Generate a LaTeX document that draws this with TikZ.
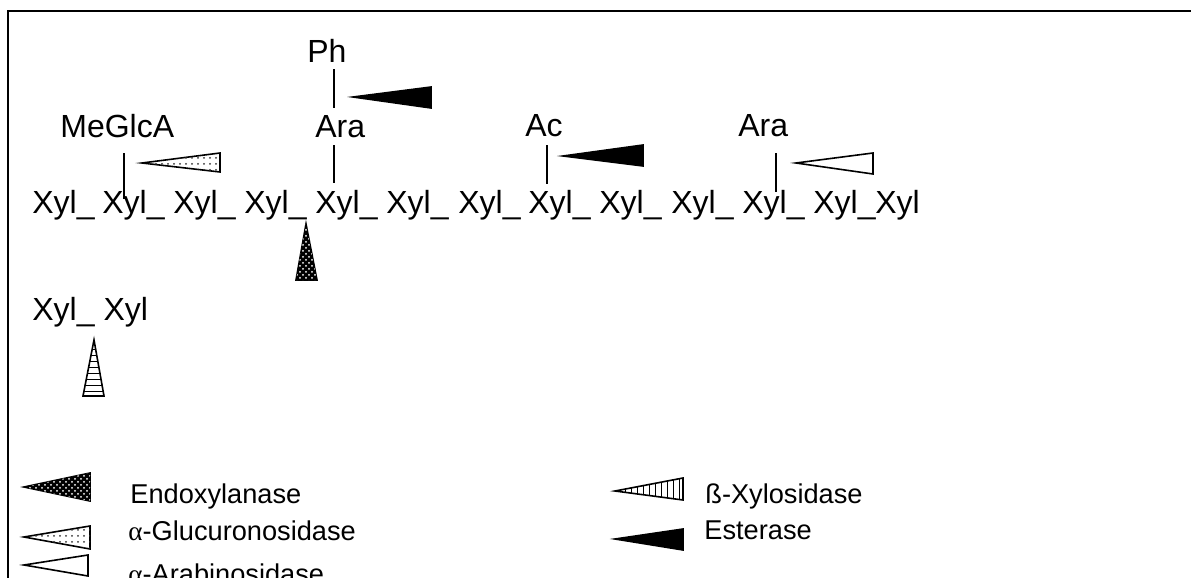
\documentclass[tikz,border=0pt]{standalone}
\usepackage{fontspec}
\setmainfont{Liberation Sans}
\newfontfamily\greekfont{Liberation Serif}
\usetikzlibrary{patterns}
\newcommand{\alf}{{\greekfont α}}
\tikzset{
  lbl/.style={anchor=base west, inner sep=0pt, font=\fontsize{16}{19}\selectfont},
  leg/.style={anchor=base west, inner sep=0pt, font=\fontsize{13.6}{16}\selectfont},
  bond/.style={line width=0.9pt},
  wedge/.style={draw=black, line width=0.8pt, line join=miter},
  endo/.style={wedge, fill=black, postaction={pattern=crosshatch dots, pattern color=white}},
  gluc/.style={wedge, fill=white, postaction={pattern=dots, pattern color=black!80}},
  arab/.style={wedge, fill=white},
  ester/.style={wedge, fill=black},
  xylo/.style={wedge, fill=white, postaction={pattern=vertical lines}},
  xyloup/.style={wedge, fill=white, postaction={pattern=horizontal lines}},
}
\begin{document}
\begin{tikzpicture}[x=0.5pt,y=-0.5pt]
\clip (0,0) rectangle (1191,578);
\fill[white] (0,0) rectangle (1191,578);
% frame
\draw[line width=1pt] (8,600) -- (8,11) -- (1200,11);

% xylan backbone
\foreach \i/\xx in {1/32,2/102,3/173,4/244,5/315,6/386,7/458,8/528,9/599,10/671,11/742,12/813}
  \node[lbl] (x\i) at (\xx,213) {Xyl\_};
\node[lbl] (x13) at (875,213) {Xyl};

% side groups
\node[lbl] (ph)   at (307,62)  {Ph};
\node[lbl] (mgl)  at (60,137)  {MeGlcA};
\node[lbl] (ara1) at (315,137) {Ara};
\node[lbl] (ac)   at (525,136) {Ac};
\node[lbl] (ara2) at (738,136) {Ara};

% bonds to the backbone
\coordinate (b1t) at (124,153); \coordinate (b1b) at (124,199);
\coordinate (b2t) at (334,145); \coordinate (b2b) at (334,183);
\coordinate (b3t) at (334,69);  \coordinate (b3b) at (334,108);
\coordinate (b4t) at (547,145); \coordinate (b4b) at (547,184);
\coordinate (b5t) at (776,153); \coordinate (b5b) at (776,192);
\draw[bond] (b1t) -- (b1b);
\draw[bond] (b2t) -- (b2b);
\draw[bond] (b3t) -- (b3b);
\draw[bond] (b4t) -- (b4b);
\draw[bond] (b5t) -- (b5b);

% enzyme wedges on the chain
\draw[ester] (353,97) -- (431,87) -- (431,108) -- cycle;
\draw[gluc]  (142,163) -- (220,153) -- (220,172) -- cycle;
\draw[ester] (563,156) -- (643,145) -- (643,166) -- cycle;
\draw[arab]  (796,163) -- (873,153) -- (873,174) -- cycle;
\draw[endo]  (306,224) -- (317,280) -- (296,280) -- cycle;

% xylobiose
\node[lbl] (xb) at (32,320) {Xyl\_ Xyl};
\draw[xyloup] (94,340) -- (104,396) -- (83,396) -- cycle;

% legend
\draw[endo]  (24,487) -- (90,473) -- (90,501) -- cycle;
\node[leg] (l1) at (130,503) {Endoxylanase};
\draw[gluc]  (24,537) -- (90,526) -- (90,549) -- cycle;
\node[leg] (l2) at (128,540) {\alf-Glucuronosidase};
\draw[arab]  (24,565) -- (88,555) -- (88,576) -- cycle;
\node[leg] (l3) at (128,583) {\alf-Arabinosidase};
\draw[xylo]  (615,491) -- (683,478) -- (683,500) -- cycle;
\node[leg] (l4) at (705,503) {ß-Xylosidase};
\draw[ester] (615,539) -- (683,529) -- (683,550) -- cycle;
\node[leg] (l5) at (704,539) {Esterase};
\end{tikzpicture}
\end{document}
